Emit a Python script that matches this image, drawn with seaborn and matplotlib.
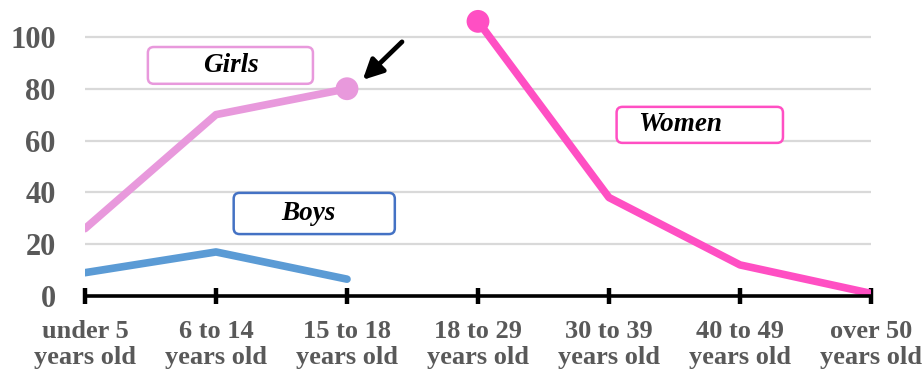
import matplotlib
matplotlib.use("Agg")
import matplotlib.pyplot as plt
from matplotlib.patches import FancyBboxPatch
import numpy as np
import pandas as pd
import seaborn as sns

# Age groups along the x axis
age_groups = ["under 5\nyears old", "6 to 14\nyears old", "15 to 18\nyears old",
              "18 to 29\nyears old", "30 to 39\nyears old", "40 to 49\nyears old",
              "over 50\nyears old"]

# Series values (None where a group does not apply)
girls = [26, 70, 80, None, None, None, None]
boys = [9, 17, 6.5, None, None, None, None]
women = [None, None, None, 106, 38, 12, 1]

y_ticks = [0, 20, 40, 60, 80, 100]

series_names = ["Girls", "Boys", "Women"]
series_colors = {"Girls": "#e899dc", "Boys": "#5b9bd5", "Women": "#ff4fc3"}
box_edges = {"Girls": "#e899dc", "Boys": "#4472c4", "Women": "#ff4fc3"}

rows = []
for name, vals in zip(series_names, [girls, boys, women]):
    for i, v in enumerate(vals):
        if v is not None:
            rows.append({"pos": i, "value": v, "series": name})
df = pd.DataFrame(rows)

sns.set_theme(style="white")
plt.rcParams["font.family"] = ["Liberation Serif", "DejaVu Serif"]

fig = plt.figure(figsize=(9.24, 3.70), dpi=100)
ax = fig.add_axes([85 / 924, 74 / 370, 786 / 924, 285 / 370])

# Light horizontal gridlines
for t in y_ticks[1:]:
    ax.axhline(t, color="#d9d9d9", linewidth=1.6, zorder=0)

sns.lineplot(data=df, x="pos", y="value", hue="series", palette=series_colors,
             linewidth=5.5, legend=False, ax=ax, solid_capstyle="round",
             sort=False, estimator=None)

# End markers on the highlighted points
markers = pd.DataFrame({
    "pos": [2, 3],
    "value": [girls[2], women[3]],
    "series": ["Girls", "Women"],
})
sns.scatterplot(data=markers, x="pos", y="value", hue="series",
                palette=series_colors, s=270, linewidth=0, legend=False,
                ax=ax, zorder=5, clip_on=False)

ax.set_xlim(0, 6)
ax.set_ylim(0, 110)
ax.set_xticks(range(len(age_groups)))
ax.set_xticklabels(age_groups, linespacing=1.2)
ax.set_yticks(y_ticks)
ax.set_xlabel("")
ax.set_ylabel("")

for side in ["top", "right", "left"]:
    ax.spines[side].set_visible(False)
ax.spines["bottom"].set_color("black")
ax.spines["bottom"].set_linewidth(2.6)
ax.spines["bottom"].set_zorder(4)

ax.tick_params(axis="x", bottom=True, direction="inout", length=12, width=3.2,
               color="black", pad=11, labelsize=19, labelcolor="#595959")
ax.tick_params(axis="y", left=False, length=0, pad=21, labelsize=22,
               labelcolor="#595959")
for lbl in ax.get_xticklabels() + ax.get_yticklabels():
    lbl.set_fontweight("bold")

# Series name boxes
boxes = [
    ("Girls", (0.48, 81.9), 1.26, 14.2, (1.11, 88.8)),
    ("Boys", (1.135, 23.9), 1.23, 15.9, (1.706, 31.7)),
    ("Women", (4.058, 59.1), 1.27, 13.9, (4.546, 66.0)),
]
for name, (bx, by), bw, bh, (tx, ty) in boxes:
    patch = FancyBboxPatch((bx, by), bw, bh,
                           boxstyle="round,pad=0,rounding_size=0.045",
                           mutation_aspect=50, facecolor="white",
                           edgecolor=box_edges[name], linewidth=1.8, zorder=6)
    ax.add_patch(patch)
    ax.text(tx, ty, name, ha="center", va="center", fontsize=19.5,
            fontweight="bold", fontstyle="italic", color="black", zorder=7)

# Arrow pointing at the last Girls value
ax.annotate("", xy=(2.12, 83.4), xytext=(2.42, 98.1),
            arrowprops=dict(arrowstyle="-|>,head_length=1.0,head_width=0.5",
                            color="black", linewidth=3.4, shrinkA=0, shrinkB=0),
            zorder=7, annotation_clip=False)

fig.savefig("out.png", dpi=100, facecolor="white")
